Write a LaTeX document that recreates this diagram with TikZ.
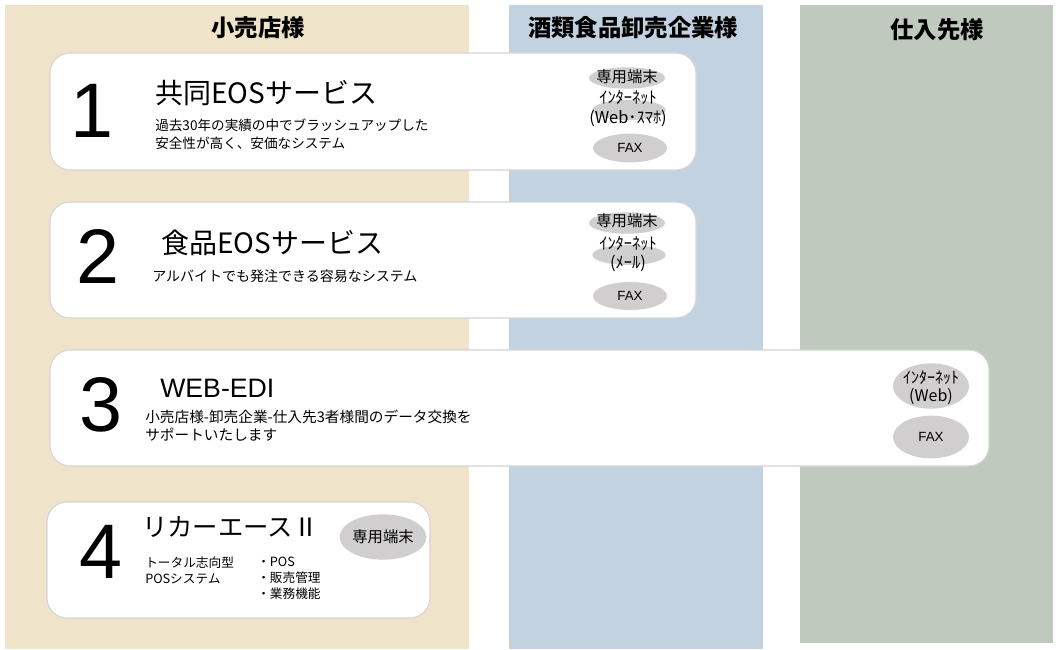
\documentclass[tikz,border=0pt]{standalone}
\usepackage{fontspec}
\setmainfont{Liberation Sans}
\newfontfamily\jp{Noto Sans CJK JP}
\usetikzlibrary{shapes.geometric}
\definecolor{kouri}{HTML}{EFE4C9}
\definecolor{oroshi}{HTML}{C3D2E0}
\definecolor{shiire}{HTML}{BFC9BD}
\definecolor{daengray}{HTML}{D0CECE}
\definecolor{waku}{HTML}{D4D4D4}

\begin{document}
\begin{tikzpicture}[x=0.75pt,y=-0.75pt,
  box/.style={draw=waku,fill=white,rounded corners=15pt,line width=0.8pt},
  daen/.style={ellipse,fill=daengray,inner sep=0pt},
  bango/.style={font=\fontsize{58}{60}\selectfont},
  title/.style={anchor=west,inner sep=0pt,font=\jp\fontsize{21}{24}\selectfont},
  setumei/.style={anchor=west,align=left,inner sep=0pt,font=\jp\fontsize{10.2}{12.75}\selectfont},
  midasi/.style={font=\jp\bfseries\fontsize{17.5}{18}\selectfont},
  mini/.style={align=center,inner sep=0pt,font=\jp\fontsize{12.3}{15}\selectfont}]
\useasboundingbox (0,0) rectangle (1059,649);
% columns
\fill[kouri] (5,5) rectangle (469,649);
\fill[oroshi] (509,5) rectangle (763,649);
\fill[shiire] (800,5) rectangle (1053,643);
\node[midasi] (kourisama) at (258,28) {小売店様};
\node[midasi] (oroshisama) at (633,28) {酒類食品卸売企業様};
\node[midasi] (shiiresama) at (937,30) {仕入先様};
% boxes
\draw[box] (50,53) rectangle (696,170);
\draw[box] (50,202) rectangle (696,318);
\draw[box] (50,350) rectangle (989,466);
\draw[box] (47,502) rectangle (430,618);
% 1
\node[bango] (n1) at (92,111) {1};
\node[title] (t1) at (155,93) {共同EOSサービス};
\node[setumei] (s1) at (155,125) {過去30年の実績の中でブラッシュアップした};
\node[setumei] (s1b) at (155,143) {安全性が高く、安価なシステム};
\node[daen,minimum width=57pt,minimum height=16pt] (e1a) at (627,78) {};
\node[mini,font=\jp\fontsize{11.5}{12}\selectfont] (l1a) at (627,77) {専用端末};
\node[daen,minimum width=55pt,minimum height=15pt] (e1b) at (629,110) {};
\node[mini] (l1b) at (628,109) {ｲﾝﾀｰﾈｯﾄ\\(Web･ｽﾏﾎ)};
\node[daen,minimum width=55.5pt,minimum height=21.5pt] (e1c) at (630,148) {\fontsize{10}{12}\selectfont FAX};
% 2
\node[bango] (n2) at (98,256) {2};
\node[title] (t2) at (161,243) {食品EOSサービス};
\node[setumei,font=\jp\fontsize{10.5}{12.75}\selectfont] (s2) at (152,276) {アルバイトでも発注できる容易なシステム};
\node[daen,minimum width=57pt,minimum height=16pt] (e2a) at (627,223) {};
\node[mini,font=\jp\fontsize{11.5}{12}\selectfont] (l2a) at (627,221) {専用端末};
\node[daen,minimum width=55pt,minimum height=15pt] (e2b) at (629,255) {};
\node[mini,font=\jp\fontsize{12.3}{14}\selectfont] (l2b) at (628,254) {ｲﾝﾀｰﾈｯﾄ\\(ﾒｰﾙ)};
\node[daen,minimum width=55.5pt,minimum height=21pt] (e2c) at (630,296) {\fontsize{10}{12}\selectfont FAX};
% 3
\node[bango] (n3) at (101,405) {3};
\node[title,font=\fontsize{20}{24}\selectfont] (t3) at (160,388) {WEB-EDI};
\node[setumei,font=\jp\fontsize{11}{13}\selectfont] (s3) at (145,417) {小売店様-卸売企業-仕入先3者様間のデータ交換を};
\node[setumei,font=\jp\fontsize{11}{13}\selectfont] (s3b) at (145,435) {サポートいたします};
\node[daen,minimum width=57pt,minimum height=34pt] (e3a) at (931,386) {};
\node[mini,font=\jp\fontsize{12}{13.5}\selectfont] (l3a) at (931,388) {ｲﾝﾀｰﾈｯﾄ\\(Web)};
\node[daen,minimum width=57pt,minimum height=32pt] (e3b) at (931,437) {\fontsize{10}{12}\selectfont FAX};
% 4
\node[bango] (n4) at (101,552) {4};
\node[title,font=\jp\fontsize{19}{24}\selectfont] (t4) at (142,527) {リカーエースⅡ};
\node[setumei,font=\jp\fontsize{9.5}{12}\selectfont] (s4) at (145,570) {トータル志向型\\POSシステム};
\node[setumei,font=\jp\fontsize{9.5}{12}\selectfont] (s4b) at (257,578) {・POS\\・販売管理\\・業務機能};
\node[daen,minimum width=56pt,minimum height=34pt] (e4) at (383,537) {\jp\fontsize{11.5}{12}\selectfont 専用端末};
\end{tikzpicture}
\end{document}
